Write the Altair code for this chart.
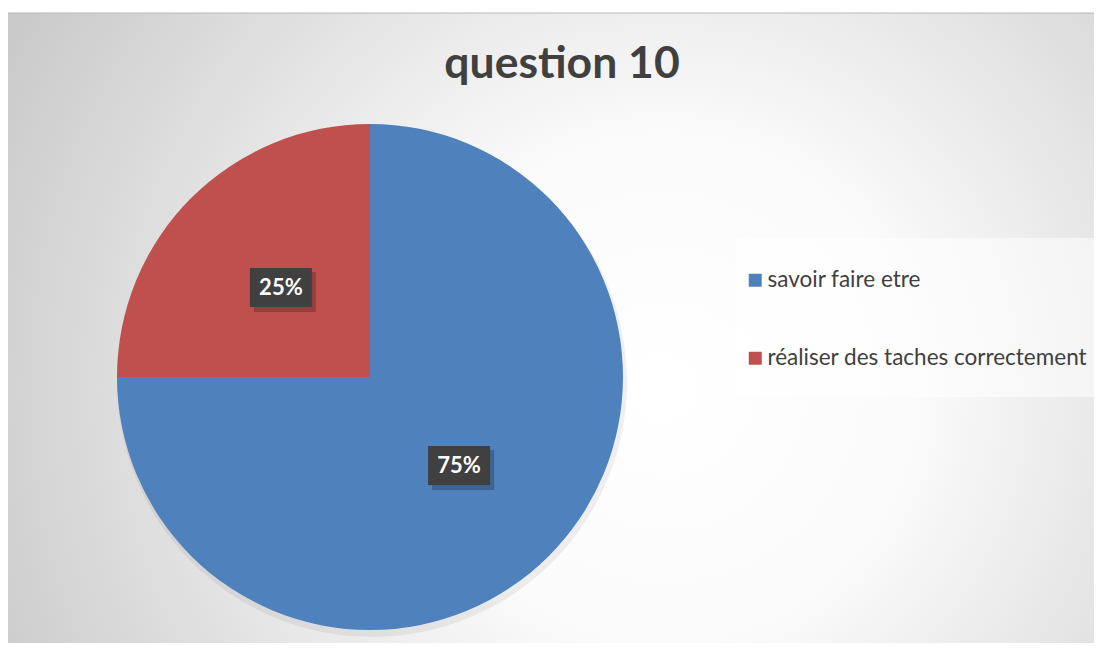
import altair as alt
import pandas as pd

categories = ["savoir faire etre", "réaliser des taches correctement"]
values = [75, 25]
labels = ["75%", "25%"]
order = [0, 1]
colors = ["#4F81BD", "#C0504D"]
title_text = "question 10"

W, H = 1086, 635
CX, CY, R = 362, 369, 253
LR = 126
FONT = "Lato"

df = pd.DataFrame({"category": categories, "value": values, "label": labels, "order": order})
dummy = pd.DataFrame({"a": [0]})

bg = alt.Chart(dummy).mark_rect(
    stroke="#b8b8b8", strokeWidth=1,
    fill={"gradient": "radial", "x1": 0.6, "y1": 0.55, "r1": 0.0, "x2": 0.6, "y2": 0.55, "r2": 0.75,
          "stops": [{"offset": 0, "color": "#ffffff"}, {"offset": 0.3, "color": "#fbfbfb"},
                    {"offset": 1, "color": "#c2c2c2"}]}
).encode(x=alt.value(-1), x2=alt.value(W + 10), y=alt.value(5), y2=alt.value(H + 10))

legend_bg = alt.Chart(dummy).mark_rect(fill="#ffffff", opacity=0.55).encode(
    x=alt.value(728), x2=alt.value(W + 10), y=alt.value(230), y2=alt.value(389))

title = alt.Chart(dummy).mark_text(
    text=title_text, font=FONT, fontSize=44.5, fontWeight="bold", color="#404040", baseline="middle"
).encode(x=alt.value(554), y=alt.value(57))

shadow = alt.Chart(df).mark_arc(outerRadius=R + 2, fill="#000000", opacity=0.06).encode(
    theta=alt.Theta("value:Q", stack=True), order=alt.Order("order:Q"),
    x=alt.value(CX + 2), y=alt.value(CY + 5))

pie = alt.Chart(df).mark_arc(outerRadius=R).encode(
    theta=alt.Theta("value:Q", stack=True),
    order=alt.Order("order:Q"),
    color=alt.Color("category:N", scale=alt.Scale(domain=categories, range=colors),
                    legend=alt.Legend(orient="none", legendX=736, legendY=261, title=None,
                                      symbolType="square", symbolSize=169, symbolStrokeWidth=0,
                                      labelFontSize=22.5, labelFont=FONT, labelColor="#404040",
                                      labelLimit=500, rowPadding=55, padding=0, labelOffset=1)),
    x=alt.value(CX), y=alt.value(CY))

base = alt.Chart(df).transform_window(
    cum="sum(value)", sort=[alt.SortField("order")]
).transform_joinaggregate(total="sum(value)").transform_calculate(
    mid="(datum.cum - datum.value/2) / datum.total * 2 * PI",
).transform_calculate(
    lx=f"{CX} + {LR} * sin(datum.mid)",
    ly=f"{CY} - {LR} * cos(datum.mid)",
).transform_calculate(
    x1="datum.lx - 31", x2="datum.lx + 31", y1="datum.ly - 20", y2="datum.ly + 19",
    sx1="datum.lx - 27", sx2="datum.lx + 35", sy1="datum.ly - 16", sy2="datum.ly + 24",
)

box_shadow = base.mark_rect(fill="#000000", opacity=0.22).encode(
    x=alt.X("sx1:Q", scale=None, axis=None), x2="sx2:Q",
    y=alt.Y("sy1:Q", scale=None, axis=None), y2="sy2:Q")

box = base.mark_rect(fill="#404040").encode(
    x=alt.X("x1:Q", scale=None, axis=None), x2="x2:Q",
    y=alt.Y("y1:Q", scale=None, axis=None), y2="y2:Q")

txt = base.mark_text(font=FONT, fontSize=22, fontWeight="bold", color="#ffffff", baseline="middle").encode(
    x=alt.X("lx:Q", scale=None, axis=None), y=alt.Y("ly:Q", scale=None, axis=None), text="label:N")

chart = alt.layer(bg, legend_bg, title, shadow, pie, box_shadow, box, txt).properties(
    width=W, height=H, padding=0, autosize=alt.AutoSizeParams(type="none"),
    background="#ffffff"
).configure_view(stroke=None)

chart.save("out.html", embed_options={"renderer": "svg", "actions": False})
